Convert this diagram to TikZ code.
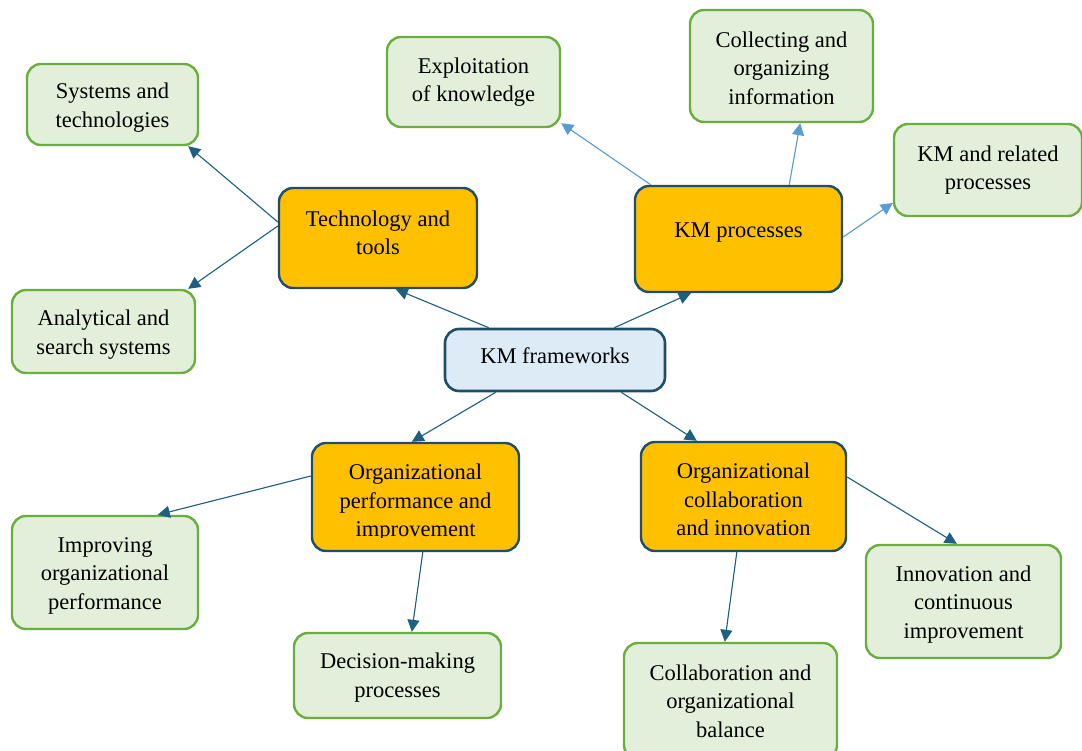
\documentclass[tikz,border=0pt]{standalone}
\usepackage{fontspec}
\setmainfont{Liberation Serif}
\usetikzlibrary{arrows.meta}
\definecolor{hubfill}{HTML}{DDEBF7}
\definecolor{hubline}{HTML}{1F4E6B}
\definecolor{topicfill}{HTML}{FFC000}
\definecolor{leaffill}{HTML}{E2EFDA}
\definecolor{leafline}{HTML}{6AAF3D}
\definecolor{darklink}{HTML}{1F5F80}
\definecolor{lightlink}{HTML}{5B9BD5}
\tikzset{
  box/.style={rectangle, rounded corners=14pt, inner sep=0pt},
  hub/.style={box, draw=hubline, fill=hubfill, line width=2.6pt},
  topic/.style={box, draw=hubline, fill=topicfill, line width=2.4pt},
  leaf/.style={box, draw=leafline, fill=leaffill, line width=2.4pt},
  txt/.style={inner sep=0pt, align=center, font=\fontsize{22.5}{28.5}\selectfont},
  darkarrow/.style={draw=darklink, line width=1.1pt,
    -{Triangle[length=12pt,width=12pt]}, fill=darklink},
  lightarrow/.style={draw=lightlink, line width=1.1pt,
    -{Triangle[length=12pt,width=12pt]}, fill=lightlink},
}
\begin{document}
\begin{tikzpicture}[x=1pt,y=-1pt]
\useasboundingbox (0,0) rectangle (1082,750);
\begin{scope}
\clip (0,0) rectangle (1082,750);
% central node
\node[hub, minimum width=220pt, minimum height=62pt] (cen) at (555,360) {};
\node[txt] (centx) at ([yshift=4pt]cen.center) {KM frameworks};
% main branches
\node[topic, minimum width=198pt, minimum height=100pt] (tech) at (378,238) {};
\node[txt] (techtx) at ([yshift=5pt]tech.center) {Technology and\\tools};
\node[topic, minimum width=207pt, minimum height=106pt] (proc) at (738.5,239) {};
\node[txt] (proctx) at ([yshift=6pt]proc.center) {KM processes};
\node[topic, minimum width=207pt, minimum height=108pt] (perf) at (415.5,497) {};
\begin{scope}
  % the last line of this label is cut off by its frame
  \clip (300,440) rectangle (530,537);
  \node[txt] (perftx) at ([yshift=-6pt]perf.center) {Organizational\\performance and\\improvement};
\end{scope}
\node[topic, minimum width=205pt, minimum height=109pt] (collab) at (743.5,496.5) {};
\node[txt] (collabtx) at ([yshift=-3pt]collab.center) {Organizational\\collaboration\\and innovation};
% leaves
\node[leaf, minimum width=171pt, minimum height=81pt] (sys) at (112.5,104.5) {};
\node[txt] (systx) at ([yshift=-3pt]sys.center) {Systems and\\technologies};
\node[leaf, minimum width=183pt, minimum height=83pt] (anal) at (103.5,331.5) {};
\node[txt] (analtx) at ([yshift=-3pt]anal.center) {Analytical and\\search systems};
\node[leaf, minimum width=173pt, minimum height=90pt] (expl) at (473.5,82) {};
\node[txt] (expltx) at (expl.center) {Exploitation\\of knowledge};
\node[leaf, minimum width=183pt, minimum height=112pt] (coll) at (781.5,66) {};
\node[txt] (colltx) at ([yshift=-2pt]coll.center) {Collecting and\\organizing\\information};
\node[leaf, minimum width=188pt, minimum height=92pt] (rel) at (988,170) {};
\node[txt] (reltx) at (rel.center) {KM and related\\processes};
\node[leaf, minimum width=186pt, minimum height=113pt] (impr) at (105,572.5) {};
\node[txt] (imprtx) at ([yshift=-3pt]impr.center) {Improving\\organizational\\performance};
\node[leaf, minimum width=207pt, minimum height=85pt] (dec) at (397.5,675.5) {};
\node[txt] (dectx) at ([yshift=-2pt]dec.center) {Decision-making\\processes};
\node[leaf, minimum width=213pt, minimum height=116pt] (bal) at (730.5,701) {};
\node[txt] (baltx) at (bal.center) {Collaboration and\\organizational\\balance};
\node[leaf, minimum width=195pt, minimum height=113pt] (innov) at (963.5,601.5) {};
\node[txt] (innovtx) at ([yshift=-3pt]innov.center) {Innovation and\\continuous\\improvement};
% connectors from the centre
\draw[darkarrow] ([xshift=45pt]cen.north west) -- ([xshift=118pt]tech.south west);
\draw[darkarrow] ([xshift=-52pt]cen.north east) -- ([xshift=57pt]proc.south west);
\draw[darkarrow] ([xshift=52pt]cen.south west) -- ([xshift=101pt]perf.north west);
\draw[darkarrow] ([xshift=-45pt]cen.south east) -- ([xshift=57pt]collab.north west);
% technology branch
\draw[darkarrow] ([yshift=16pt]tech.west) -- ([xshift=-11pt]sys.south east);
\draw[darkarrow] ([yshift=12pt]tech.west) -- ([xshift=-8pt]anal.north east);
% processes branch
\draw[lightarrow] ([xshift=17pt]proc.north west) -- ([yshift=5pt]expl.south east);
\draw[lightarrow] ([xshift=-54pt]proc.north east) -- ([xshift=-74pt]coll.south east);
\draw[lightarrow] ([yshift=2pt]proc.east) -- ([yshift=-33pt]rel.west);
% performance branch
\draw[darkarrow] ([yshift=21pt]perf.west) -- ([xshift=147pt]impr.north west);
\draw[darkarrow] ([xshift=112pt]perf.south west) -- ([xshift=119pt]dec.north west);
% collaboration branch
\draw[darkarrow] ([xshift=97pt]collab.south west) -- ([xshift=102pt]bal.north west);
\draw[darkarrow] ([yshift=19.5pt]collab.east) -- ([xshift=92pt]innov.north west);
\end{scope}
\end{tikzpicture}
\end{document}
